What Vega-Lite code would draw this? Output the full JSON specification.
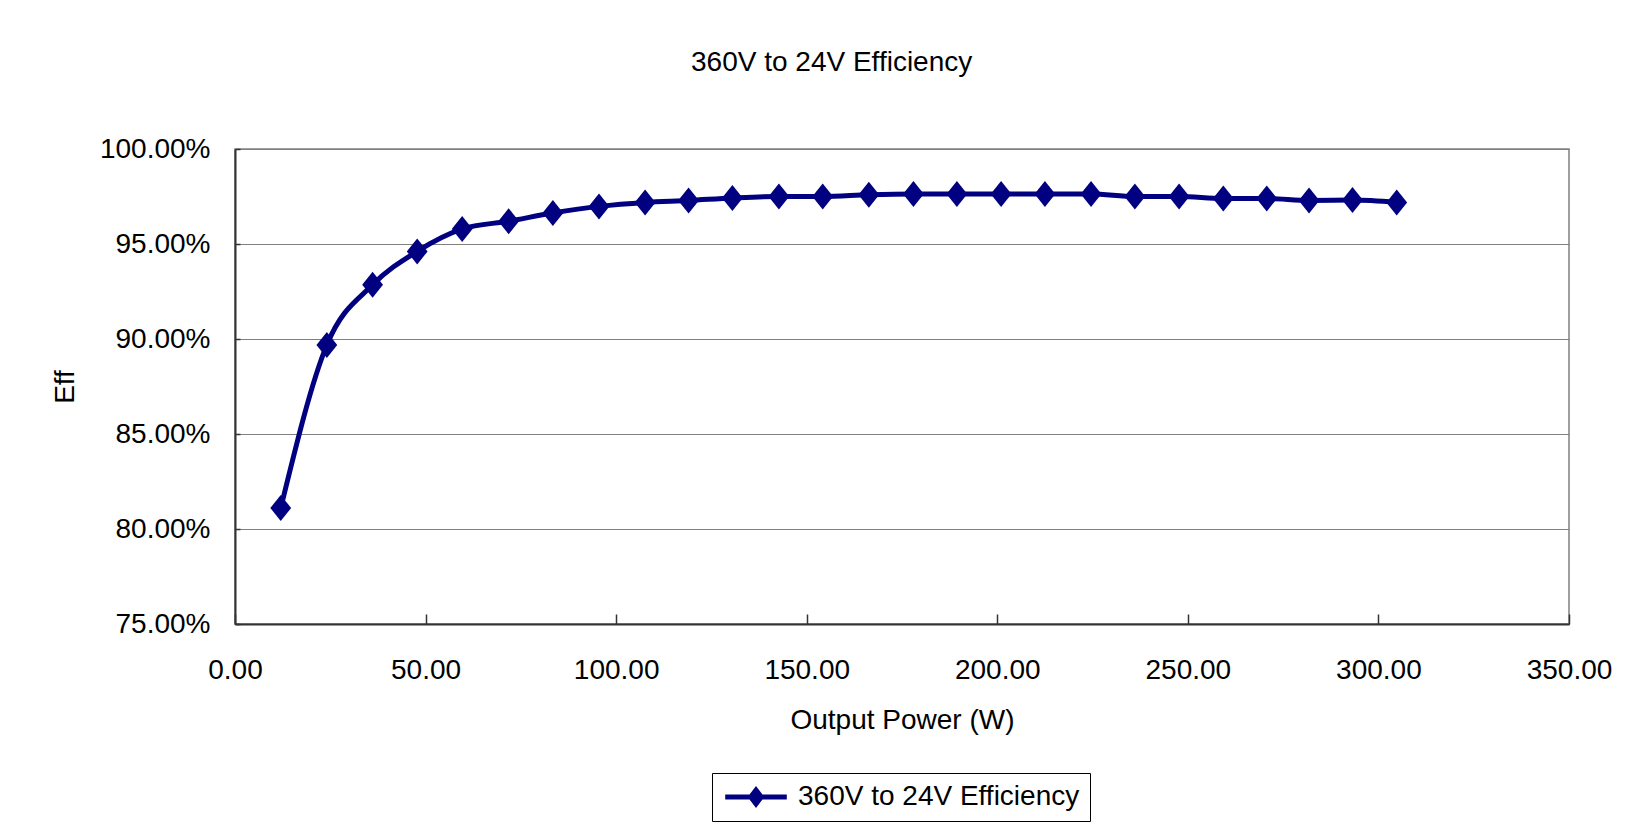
{
  "$schema": "https://vega.github.io/schema/vega-lite/v6.json",
  "autosize": {"type": "none"},
  "width": 1334,
  "height": 475,
  "padding": {"left": 235, "top": 149, "right": 71, "bottom": 216},
  "background": "white",
  "title": {
    "text": "360V to 24V Efficiency",
    "fontSize": 28,
    "fontWeight": "normal",
    "font": "Liberation Sans",
    "color": "black",
    "anchor": "middle",
    "frame": "bounds",
    "offset": 58
  },
  "data": {
    "values": [
      {"power": 12.0, "eff": 0.8110, "series": "360V to 24V Efficiency"},
      {"power": 24.1, "eff": 0.8969, "series": "360V to 24V Efficiency"},
      {"power": 36.1, "eff": 0.9285, "series": "360V to 24V Efficiency"},
      {"power": 47.8, "eff": 0.9461, "series": "360V to 24V Efficiency"},
      {"power": 59.6, "eff": 0.9579, "series": "360V to 24V Efficiency"},
      {"power": 71.8, "eff": 0.9620, "series": "360V to 24V Efficiency"},
      {"power": 83.4, "eff": 0.9663, "series": "360V to 24V Efficiency"},
      {"power": 95.5, "eff": 0.9698, "series": "360V to 24V Efficiency"},
      {"power": 107.6, "eff": 0.9719, "series": "360V to 24V Efficiency"},
      {"power": 119.0, "eff": 0.9729, "series": "360V to 24V Efficiency"},
      {"power": 130.5, "eff": 0.9742, "series": "360V to 24V Efficiency"},
      {"power": 142.7, "eff": 0.9750, "series": "360V to 24V Efficiency"},
      {"power": 154.2, "eff": 0.9750, "series": "360V to 24V Efficiency"},
      {"power": 166.3, "eff": 0.9759, "series": "360V to 24V Efficiency"},
      {"power": 178.0, "eff": 0.9763, "series": "360V to 24V Efficiency"},
      {"power": 189.4, "eff": 0.9763, "series": "360V to 24V Efficiency"},
      {"power": 201.0, "eff": 0.9763, "series": "360V to 24V Efficiency"},
      {"power": 212.5, "eff": 0.9763, "series": "360V to 24V Efficiency"},
      {"power": 224.6, "eff": 0.9763, "series": "360V to 24V Efficiency"},
      {"power": 236.1, "eff": 0.9750, "series": "360V to 24V Efficiency"},
      {"power": 247.7, "eff": 0.9750, "series": "360V to 24V Efficiency"},
      {"power": 259.3, "eff": 0.9740, "series": "360V to 24V Efficiency"},
      {"power": 270.7, "eff": 0.9740, "series": "360V to 24V Efficiency"},
      {"power": 281.8, "eff": 0.9729, "series": "360V to 24V Efficiency"},
      {"power": 293.2, "eff": 0.9731, "series": "360V to 24V Efficiency"},
      {"power": 304.8, "eff": 0.9719, "series": "360V to 24V Efficiency"}
    ]
  },
  "encoding": {
    "x": {
      "field": "power",
      "type": "quantitative",
      "title": "Output Power (W)",
      "scale": {"domain": [0, 350], "nice": false, "zero": false},
      "axis": {
        "values": [0, 50, 100, 150, 200, 250, 300, 350],
        "format": ".2f",
        "grid": false,
        "tickSize": -10,
        "labelPadding": 42,
        "titlePadding": 22
      }
    },
    "y": {
      "field": "eff",
      "type": "quantitative",
      "title": "Eff",
      "scale": {"domain": [0.75, 1.0], "nice": false, "zero": false},
      "axis": {
        "values": [0.75, 0.8, 0.85, 0.9, 0.95, 1.0],
        "format": ".2%",
        "grid": true,
        "tickSize": -5,
        "labelPadding": 30,
        "titlePadding": 20
      }
    }
  },
  "layer": [
    {
      "mark": {"type": "line", "interpolate": "monotone", "color": "#000080", "strokeWidth": 5}
    },
    {
      "mark": {
        "type": "point",
        "filled": true,
        "opacity": 1,
        "size": 676,
        "shape": "M0,-1L0.8,0L0,1L-0.8,0Z"
      },
      "encoding": {
        "color": {
          "field": "series",
          "type": "nominal",
          "scale": {"range": ["#000080"]},
          "legend": {
            "title": null,
            "orient": "none",
            "legendX": 477,
            "legendY": 624,
            "symbolType": "M-2.8,-0.23L-0.59,-0.23L0,-1L0.59,-0.23L2.8,-0.23L2.8,0.23L0.59,0.23L0,1L-0.59,0.23L-2.8,0.23Z",
            "symbolSize": 484,
            "symbolOffset": 20,
            "symbolStrokeWidth": 0,
            "symbolOpacity": 1,
            "labelOffset": 28,
            "labelFontSize": 28,
            "labelLimit": 600,
            "labelFont": "Liberation Sans",
            "labelColor": "black",
            "strokeColor": "black",
            "padding": 10,
            "fillColor": "white"
          }
        }
      }
    }
  ],
  "config": {
    "font": "Liberation Sans",
    "view": {"stroke": "#808080", "strokeWidth": 1.5},
    "axis": {
      "labelFontSize": 28,
      "titleFontSize": 28,
      "titleFontWeight": "normal",
      "labelColor": "black",
      "titleColor": "black",
      "labelFont": "Liberation Sans",
      "titleFont": "Liberation Sans",
      "domainColor": "#333333",
      "domainWidth": 2,
      "tickColor": "#333333",
      "tickWidth": 1.5,
      "gridColor": "#808080",
      "gridWidth": 1.2,
      "gridOpacity": 1,
      "labelFlush": false,
      "labelOverlap": false
    }
  }
}
